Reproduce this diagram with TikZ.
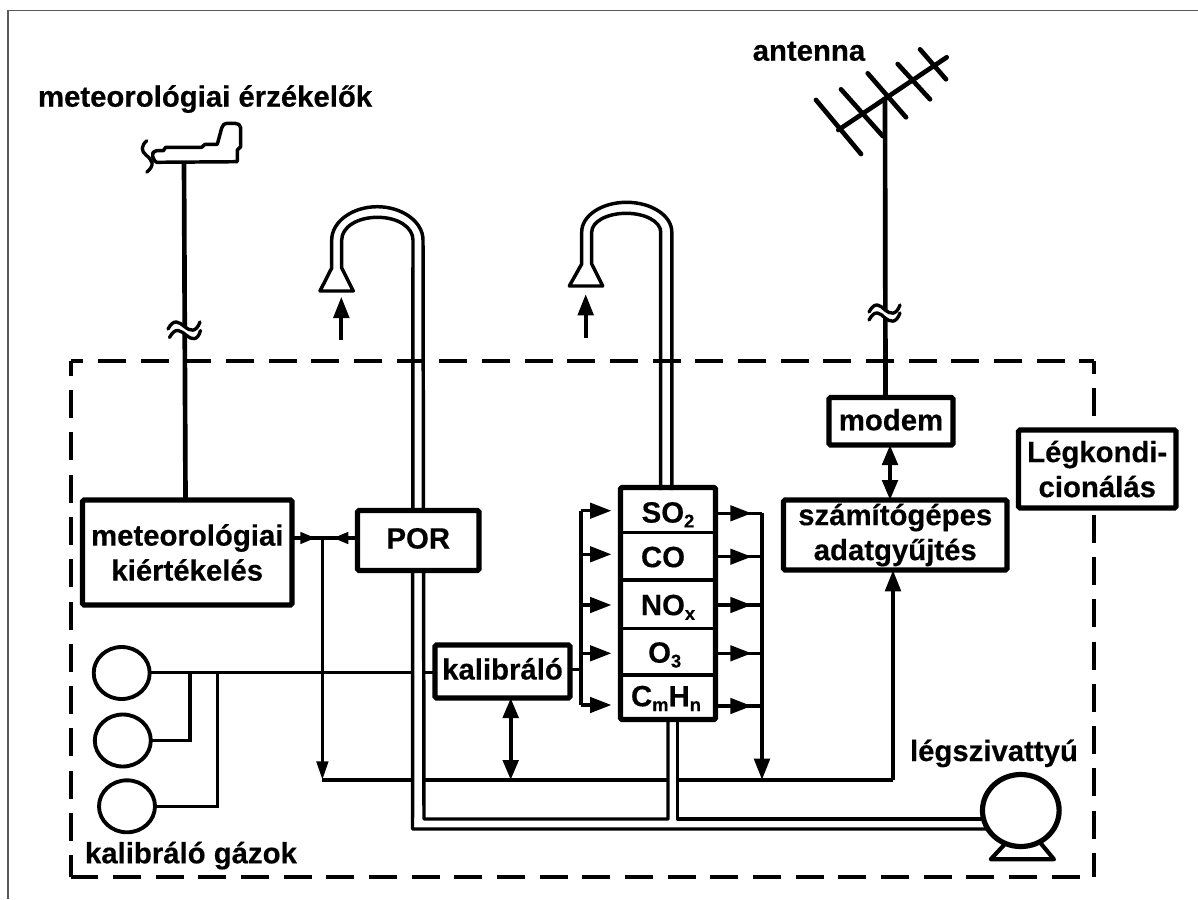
\documentclass[tikz,border=0pt]{standalone}
\usepackage{fontspec}
\setmainfont{Liberation Sans}[BoldFeatures={FakeBold=0.4}]
\usetikzlibrary{arrows.meta,shapes.geometric,calc}
\newcommand{\sbs}[1]{\raisebox{-3.6pt}{\fontsize{13.8}{13.8}\selectfont #1}}
\newcommand{\rbox}[7][]{%
  \pgfmathsetmacro\rw{(#5-#3)*0.75}\pgfmathsetmacro\rh{(#6-#4)*0.75}%
  \node[#2,minimum width=\rw pt,minimum height=\rh pt,#1] (#7) at ({(#3+#5)/2},{(#4+#6)/2})}
\tikzset{
  lbl/.style={font=\fontsize{22}{26.25}\selectfont\bfseries,inner sep=0pt,outer sep=0pt},
  heavy/.style={lbl,draw=black,fill=white,line width=4pt,rounded corners=1.2pt,align=center},
  cell/.style={lbl,draw=black,line width=2.6pt},
  wire/.style={line width=2.6pt,line join=miter},
  bus/.style={line width=3.1pt},
  mast/.style={line width=3.5pt,line cap=round},
  wall/.style={line width=2.6pt,line join=round},
  pipeclear/.style={line width=6.5pt,white},
  frame/.style={line width=3.1pt,dash pattern=on 21pt off 11pt},
  wavy/.style={line width=2.5pt,line cap=round},
  bigtip/.style={-{Triangle[length=16pt,width=11.5pt]}},
  midtip/.style={-{Triangle[length=14pt,width=8.5pt]}},
  smalltip/.style={-{Triangle[length=11.5pt,width=8.5pt]}},
  both/.style={{Triangle[length=15pt,width=11.5pt]}-{Triangle[length=15pt,width=11.5pt]}},
  cyl/.style={ellipse,draw=black,fill=white,line width=2.9pt,inner sep=0pt,outer sep=0pt},
}
\begin{document}
\begin{tikzpicture}[x=0.75pt,y=-0.75pt]
\useasboundingbox (0,0) rectangle (1198,899);
% outer thin border
\draw[line width=1pt,black!65] (1198,10.5) -- (8,10.5) -- (8,899);

% junction coordinates
\coordinate (jm) at (322.4,538);
\coordinate (jb) at (322.4,780);
\coordinate (jk) at (510.7,780);
\coordinate (jr) at (762,780);
\coordinate (jc) at (893,780);
\coordinate (gas) at (190,672.3);
\coordinate (gat) at (217.7,672.3);
\coordinate (bl) at (581,669.5);
\coordinate (bt) at (581,510.7);
\coordinate (bb) at (581,705);
\coordinate (bm2) at (581,554.3);
\coordinate (bm3) at (581,605);
\coordinate (bm4) at (581,653.3);
\coordinate (rt) at (762,513.3);
\coordinate (r2) at (762,556.7);
\coordinate (r3) at (762,605);
\coordinate (r4) at (762,653.3);
\coordinate (r5) at (762,706);
\coordinate (t1) at (751.7,513.3);
\coordinate (t2) at (751.7,556.7);
\coordinate (t3) at (751.7,605);
\coordinate (t4) at (751.7,653.3);
\coordinate (t5) at (751.7,706);
\coordinate (mastA) at (184,162);
\coordinate (mastB) at (885,97);

% gas bottles
\node[cyl,minimum width=42pt,minimum height=39pt] (c1) at (121.7,673) {};
\node[cyl,minimum width=42pt,minimum height=39pt] (c2) at (122.8,740.5) {};
\node[cyl,minimum width=42pt,minimum height=39pt] (c3) at (127,806.3) {};

% wires behind everything
\draw[wire] (c1.east |- gas) -- (572,672.3) coordinate (kw);
\draw[wire] (gas) |- (c2.east);
\draw[wire] (gat) |- (c3.east);
\draw[wire] (jb) -- (jc);

% pipes
\draw[pipeclear] (418,572) -- (418,819);
\draw[pipeclear] (672.7,722) -- (672.7,819);
\draw[wall] (668,722) -- (668,819) -- (424,819) -- (423,240)
  .. controls (423,221.8) and (402.1,206.7) .. (377.3,206.7)
  .. controls (352.2,206.7) and (331.7,221.8) .. (331.7,240)
  -- (331.7,268) -- (320,291) -- (353.3,291) -- (341.7,268) -- (341.7,240)
  .. controls (341.7,227.3) and (357,217.3) .. (377.5,217.3)
  .. controls (398,217.3) and (413,227.3) .. (413,240)
  -- (412.5,829) -- (1020,829);
\draw[wall] (677.4,722) -- (677.4,819) -- (1020,819);
\draw[wall] (671.8,490) -- (671.8,232)
  .. controls (671.8,215.6) and (651.4,202.3) .. (626.6,202.3)
  .. controls (601.8,202.3) and (581.7,215.6) .. (581.7,232)
  -- (581.7,264) -- (569.3,286) -- (602.7,286) -- (591.7,264) -- (591.7,232)
  .. controls (591.7,221.7) and (607,213.3) .. (626.2,213.3)
  .. controls (645.4,213.3) and (660.7,221.7) .. (660.7,232)
  -- (660.7,490);

% flow arrows under the horns
\coordinate (fa1) at (341.3,340); \coordinate (fb1) at (341.3,296.7);
\coordinate (fa2) at (585.7,338); \coordinate (fb2) at (585.7,294);
\draw[bus,bigtip] (fa1) -- (fb1);
\draw[bus,bigtip] (fa2) -- (fb2);

% dashed enclosure
\draw[frame,dash phase=11.8pt] (71,361) -- (1094,361);
\draw[frame,dash pattern=on 21pt off 10.7pt,dash phase=9.8pt] (71,361) -- (71,877);
\draw[frame,dash pattern=on 21pt off 10.7pt,dash phase=11.4pt] (1094,361) -- (1094,877);
\draw[frame,dash phase=0.5pt] (71,877) -- (1094,877);

% boxes
\rbox{heavy}{82.5}{500}{292}{605}{meteo}{meteorológiai\\[0pt]kiértékelés};
\rbox[text height=12pt,text depth=0pt]{heavy}{357.5}{510.5}{479}{570.5}{por}{POR};
\rbox[text height=12pt,text depth=0pt]{heavy}{435}{645}{570}{698}{kal}{kalibráló};
\rbox[text height=13.5pt,text depth=0pt]{heavy}{829}{397.5}{953}{445}{modem}{modem};
\rbox{heavy}{783.5}{500}{1007}{570}{comp}{számítógépes\\[0pt]adatgyűjtés};
\rbox{heavy}{1018.5}{430}{1176}{508}{klima}{Légkondi-\\[0pt]cionálás};

% analyser stack
\rbox[text height=19pt,text depth=0pt]{cell}{620.5}{487.5}{715.5}{532.3}{so}{SO\sbs{2}};
\rbox[text height=16.5pt,text depth=0pt]{cell}{620.5}{532.3}{715.5}{580}{co}{CO\hspace*{7.5pt}};
\rbox[text height=16.5pt,text depth=0pt]{cell}{620.5}{580}{715.5}{628.3}{no}{NO\sbs{x}};
\rbox[text height=16.5pt,text depth=0pt]{cell}{620.5}{628.3}{715.5}{675}{oz}{O\sbs{3}\hspace*{5pt}};
\rbox[text height=13.5pt,text depth=0pt]{cell}{620.5}{675}{715.5}{719.5}{ch}{C\sbs{m}H\sbs{n}\hspace*{3pt}};
\rbox{heavy,fill=none}{620.5}{487.5}{715.5}{719.5}{stack}{};

% pump
\node[ellipse,draw=black,fill=white,line width=3.9pt,inner sep=0pt,outer sep=0pt,minimum width=57.5pt,minimum height=54pt] (pump) at (1020.8,810.5) {};
\draw[line width=3.1pt,line join=round,line cap=round] (1004,845) -- (990.7,859.3) -- (1054,859.3) -- (1040.7,843.3);

% masts
\draw[mast,line cap=butt] (mastA) -- (meteo.north -| 185.5,0);
\draw[mast,line cap=butt] (mastB) -- (modem.north -| 885.5,0);

% wind vane
\draw[line width=2.6pt,line join=round,fill=white] (156.7,162.3) -- (237.3,161.7) -- (237.3,150) -- (240.7,146.7) -- (240.7,128)
  .. controls (240.7,125) and (238,123.3) .. (235,123.3) -- (228,123.3)
  .. controls (224,123.3) and (222.5,125) .. (221.7,128) -- (217.3,144.3) -- (205,144.3) -- (201.7,147.3) -- (165.7,147.3) -- (163.3,150.7) -- (156.7,150.7)
  .. controls (153,151.5) and (151.5,154) .. (152.7,156.5) .. controls (153.5,159.5) and (155,162) .. (156.7,162.3) -- cycle;
\draw[wavy] (146.7,140.7) .. controls (141,146) and (141,151) .. (146,155) .. controls (153,161) and (155,165) .. (146.7,172.3);

% antenna
\draw[mast] (838.3,130) -- (946.7,57.3);
\draw[mast] (816,100) -- (861,154);
\draw[mast] (841,89.3) -- (882.7,136);
\draw[mast] (867.7,73.3) -- (906,117.3);
\draw[mast] (897.7,64) -- (930,99.3);
\draw[mast] (920,49.3) -- (946,79.3);

% break marks
\fill[white] (168,329) .. controls (174,318) and (179,322) .. (185,327) .. controls (190,331) and (196,333) .. (200,322) -- (200,330) .. controls (196,341) and (190,339) .. (185,335) .. controls (179,330) and (174,326) .. (168,337) -- cycle;
\draw[wavy] (168,329) .. controls (174,318) and (179,322) .. (185,327) .. controls (190,331) and (196,333) .. (200,322);
\draw[wavy] (169.5,337.5) .. controls (175.5,326.5) and (180.5,330.5) .. (186.5,335.5) .. controls (191.5,339.5) and (197.5,341.5) .. (200.5,330.5);
\fill[white] (869,312) .. controls (875,301) and (880,305) .. (885,310) .. controls (890,314) and (896,316) .. (900,305) -- (900,313) .. controls (896,324) and (890,322) .. (885,318) .. controls (880,313) and (875,309) .. (869,320) -- cycle;
\draw[wavy] (869,312) .. controls (875,301) and (880,305) .. (885,310) .. controls (890,314) and (896,316) .. (900,305);
\draw[wavy] (869,320) .. controls (875,309) and (880,313) .. (885,318) .. controls (890,322) and (896,324) .. (900,313);

% left junction
\draw[bus] (meteo.east |- jm) -- (por.west |- jm);
\draw[wire,smalltip] (meteo.east |- jm) -- (315.6,538);
\draw[wire,smalltip] (por.west |- jm) -- (333,538);
\draw[wire,midtip] (jm) -- (jb);

% kalibrator fan-out
\draw[wire] (kal.east |- bl) -- (bl);
\draw[wire,line cap=butt] (bt) -- (bb);
\draw[wire,bigtip,shorten >=6.8pt] (bt) -- (bt -| so.west);
\draw[wire,bigtip,shorten >=6.8pt] (bm2) -- (bm2 -| co.west);
\draw[wire,bigtip,shorten >=6.8pt] (bm3) -- (bm3 -| no.west);
\draw[wire,bigtip,shorten >=6.8pt] (bm4) -- (bm4 -| oz.west);
\draw[wire,bigtip,shorten >=6.8pt] (bb) -- (bb -| ch.west);

% right collector
\draw[wire] (so.east |- rt) -- (rt);
\draw[wire] (co.east |- r2) -- (r2);
\draw[wire] (no.east |- r3) -- (r3);
\draw[wire] (oz.east |- r4) -- (r4);
\draw[wire] (ch.east |- r5) -- (r5);
\draw[wire,bigtip] (so.east |- t1) -- (t1);
\draw[wire,bigtip] (co.east |- t2) -- (t2);
\draw[wire,bigtip] (no.east |- t3) -- (t3);
\draw[wire,bigtip] (oz.east |- t4) -- (t4);
\draw[wire,bigtip] (ch.east |- t5) -- (t5);
\draw[bus,bigtip] (rt) -- (jr);

% vertical links
\draw[bus,both] (kal.south -| jk) -- (jk);
\draw[bus,both] (modem.south -| 890,0) -- (comp.north -| 890,0);
\draw[bus,bigtip] (jc) -- (comp.south -| jc);

% free labels
\node[lbl,anchor=base west] (tmet) at (38,106.7) {meteorológiai érzékelők};
\node[lbl,anchor=base west] (tant) at (752.7,60.7) {antenna};
\node[lbl,anchor=base west] (tgaz) at (85,863.3) {kalibráló gázok};
\node[lbl,anchor=base west] (tszi) at (910,761) {légszivattyú};
\end{tikzpicture}
\end{document}
